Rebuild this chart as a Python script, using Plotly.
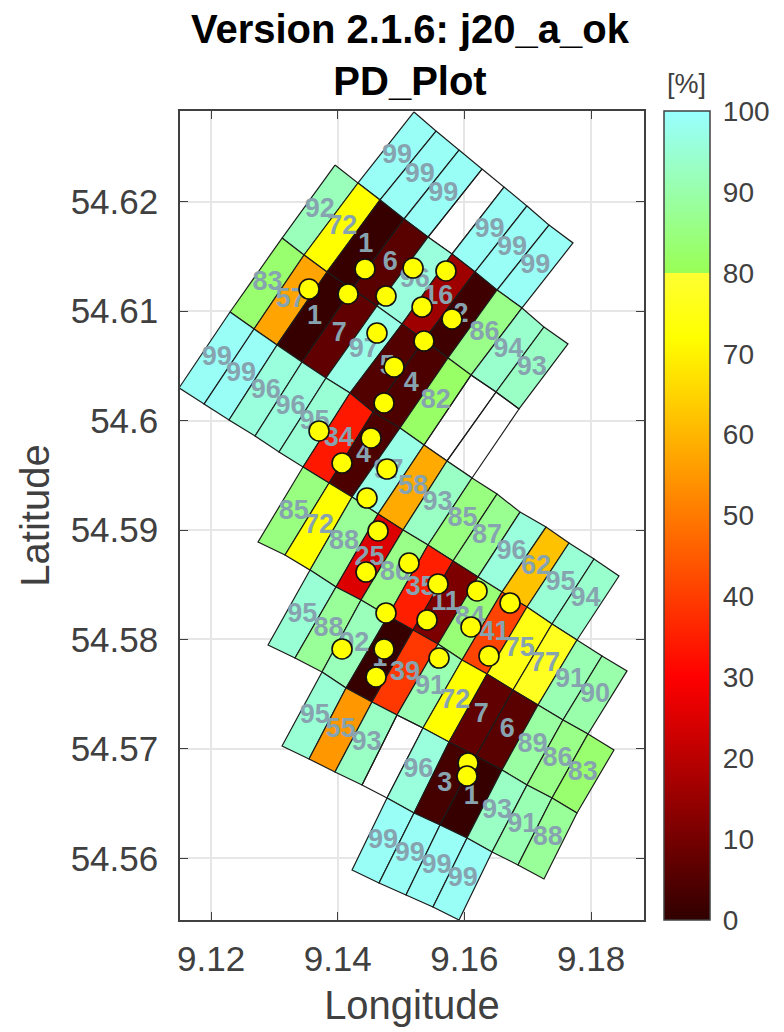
import plotly.graph_objects as go

# ---------- cell edge nodes (longitude / latitude) ----------
a_top_lon = [9.15204, 9.15552, 9.15915, 9.16278, 9.16625, 9.16988, 9.17335, 9.17714]
a_top_lat = [54.62820, 54.62646, 54.62472, 54.62299, 54.62134, 54.61961, 54.61787, 54.61623]
b_top_lon = [9.13957, 9.14320, 9.14668, 9.15047, 9.15425, 9.15804, 9.16167, 9.16515, 9.16909, 9.17256, 9.17635]
b_top_lat = [54.62335, 54.62171, 54.62016, 54.61842, 54.61677, 54.61522, 54.61358, 54.61193, 54.61029, 54.60855, 54.60700]
c_top_lon = [9.13121, 9.13468, 9.13831, 9.14226, 9.14620, 9.15015, 9.15362, 9.15741, 9.16104, 9.16499, 9.16862]
c_top_lat = [54.61668, 54.61513, 54.61358, 54.61202, 54.61047, 54.60882, 54.60736, 54.60572, 54.60416, 54.60261, 54.60106]
d_top_lon = [9.12300, 9.12679, 9.13042, 9.13436, 9.13815, 9.14194, 9.14557, 9.14983, 9.15362, 9.15725, 9.16120, 9.16515, 9.16878, 9.17288, 9.17651, 9.18046, 9.18440]
d_top_lat = [54.60992, 54.60837, 54.60691, 54.60535, 54.60389, 54.60252, 54.60078, 54.59932, 54.59777, 54.59631, 54.59475, 54.59329, 54.59164, 54.59027, 54.58881, 54.58735, 54.58580]
d_bot_lon = [9.11495, 9.11890, 9.12284, 9.12695, 9.13073, 9.13452, 9.13863, 9.14226, 9.14636, 9.15031, 9.15425, 9.15820, 9.16215, 9.16593, 9.16988, 9.17383, 9.17777]
d_bot_lat = [54.60298, 54.60151, 54.60005, 54.59859, 54.59713, 54.59576, 54.59429, 54.59302, 54.59146, 54.59000, 54.58863, 54.58717, 54.58571, 54.58433, 54.58296, 54.58141, 54.57995]
e_ext_lon = [9.18172, 9.18567]
e_ext_lat = [54.57849, 54.57712]
e_bot_lon = [9.12742, 9.13168, 9.13563, 9.13973, 9.14368, 9.14794, 9.15189, 9.15583, 9.15962, 9.16357, 9.16767, 9.17162, 9.17556, 9.17951]
e_bot_lat = [54.58890, 54.58772, 54.58634, 54.58479, 54.58360, 54.58214, 54.58086, 54.57958, 54.57812, 54.57684, 54.57538, 54.57401, 54.57264, 54.57136]
f_ext_lon = [9.18361]
f_ext_lat = [54.56990]
f_bot_lon = [9.12900, 9.13326, 9.13752, 9.14131, 9.14541, 9.14936, 9.15346, 9.15757, 9.16183, 9.16593, 9.16988, 9.17383, 9.17777]
f_bot_lat = [54.57949, 54.57830, 54.57702, 54.57556, 54.57428, 54.57309, 54.57191, 54.57063, 54.56935, 54.56807, 54.56670, 54.56551, 54.56414]
g_bot_lon = [9.13121, 9.13547, 9.13957, 9.14384, 9.14778, 9.15204, 9.15615, 9.16041, 9.16436, 9.16846, 9.17256]
g_bot_lat = [54.57026, 54.56907, 54.56789, 54.56670, 54.56551, 54.56414, 54.56304, 54.56185, 54.56058, 54.55939, 54.55811]
h_bot_lon = [9.14226, 9.14652, 9.15078, 9.15504, 9.15915]
h_bot_lat = [54.55893, 54.55774, 54.55665, 54.55555, 54.55436]

# ---------- cell values (percent), None = no data ----------
n = None
row_a = [99, 99, 99, n, 99, 99, 99]
row_b = [92, 72, 1, 6, 96, 16, 2, 86, 94, 93]
row_c = [83, 57, 1, 7, 97, 5, 4, 82, n, n]
row_d = [99, 99, 96, 96, 95, 34, 4, 97, 58, 93, 85, 87, 96, 62, 95, 94]
row_e = [85, 72, 88, 25, 86, 35, 11, 84, 41, 75, 77, 91, 90]
row_f = [95, 88, 92, 1, 39, 91, 72, 7, 6, 89, 86, 83]
row_g = [95, 55, 93, n, 96, 3, 1, 93, 91, 88]
row_h = [99, 99, 99, 99]

# ---------- yellow sites ----------
site_lon = [9.13547, 9.14163, 9.14431, 9.14762, 9.15189, 9.15709, 9.15331, 9.15804, 9.15362, 9.14620, 9.14889,
            9.14731, 9.13705, 9.14526, 9.14068, 9.14778, 9.14462, 9.14636, 9.14447, 9.15125, 9.15583, 9.16199,
            9.16720, 9.14762, 9.15410, 9.16104, 9.16388, 9.15599, 9.14068, 9.14731, 9.14605, 9.16057, 9.16041]
site_lat = [54.61202, 54.61157, 54.61385, 54.61138, 54.61394, 54.61367, 54.61038, 54.60928, 54.60727, 54.60800, 54.60489,
            54.60161, 54.59905, 54.59841, 54.59612, 54.59557, 54.59292, 54.58991, 54.58616, 54.58698, 54.58507, 54.58443,
            54.58333, 54.58242, 54.58178, 54.58114, 54.57849, 54.57830, 54.57913, 54.57913, 54.57657, 54.56871, 54.56752]

# ---------- axes and colours ----------
lon_ticks = [9.12, 9.14, 9.16, 9.18]
lon_labels = ["9.12", "9.14", "9.16", "9.18"]
lat_ticks = [54.56, 54.57, 54.58, 54.59, 54.60, 54.61, 54.62]
lat_labels = ["54.56", "54.57", "54.58", "54.59", "54.6", "54.61", "54.62"]
bar_ticks = [0, 10, 20, 30, 40, 50, 60, 70, 80, 90, 100]
cmap_vals = [0, 30, 72, 80, 80, 90, 100]
cmap_rgb = [(48, 0, 0), (255, 0, 0), (255, 255, 0), (255, 255, 51), (153, 255, 85), (153, 255, 170), (153, 255, 255)]

FONT = "Liberation Sans"
LABEL = "#87a3b0"
DARK = "#404040"


def colour(v):
    for i in range(len(cmap_vals) - 1):
        lo, hi = cmap_vals[i], cmap_vals[i + 1]
        if lo <= v <= hi and hi > lo:
            t = (v - lo) / (hi - lo)
            c = [round(a + (b - a) * t) for a, b in zip(cmap_rgb[i], cmap_rgb[i + 1])]
            return f"rgb({c[0]},{c[1]},{c[2]})"
    return "rgb(153,255,255)"


fig = go.Figure()
label_x, label_y, label_t = [], [], []


def strip(top_lon, top_lat, bot_lon, bot_lat, values):
    for i, v in enumerate(values):
        xs = [top_lon[i], top_lon[i + 1], bot_lon[i + 1], bot_lon[i], top_lon[i]]
        ys = [top_lat[i], top_lat[i + 1], bot_lat[i + 1], bot_lat[i], top_lat[i]]
        fig.add_trace(go.Scatter(
            x=xs, y=ys, mode="lines", hoverinfo="skip", showlegend=False,
            line=dict(color="#1c1c1c", width=1.2),
            fill="toself" if v is not None else "none",
            fillcolor=colour(v) if v is not None else None,
        ))
        if v is not None:
            label_x.append(sum(xs[:4]) / 4)
            label_y.append(sum(ys[:4]) / 4)
            label_t.append(str(v))


e_top_lon = d_bot_lon[5:] + e_ext_lon
e_top_lat = d_bot_lat[5:] + e_ext_lat
f_top_lon = e_bot_lon[2:] + f_ext_lon
f_top_lat = e_bot_lat[2:] + f_ext_lat

strip(a_top_lon, a_top_lat, b_top_lon[1:9], b_top_lat[1:9], row_a)
strip(b_top_lon, b_top_lat, c_top_lon, c_top_lat, row_b)
strip(c_top_lon, c_top_lat, d_top_lon[:11], d_top_lat[:11], row_c)
strip(d_top_lon, d_top_lat, d_bot_lon, d_bot_lat, row_d)
strip(e_top_lon, e_top_lat, e_bot_lon, e_bot_lat, row_e)
strip(f_top_lon, f_top_lat, f_bot_lon, f_bot_lat, row_f)
strip(f_bot_lon[2:], f_bot_lat[2:], g_bot_lon, g_bot_lat, row_g)
strip(g_bot_lon[4:9], g_bot_lat[4:9], h_bot_lon, h_bot_lat, row_h)

fig.add_trace(go.Scatter(
    x=label_x, y=label_y, text=label_t, mode="text", hoverinfo="skip", showlegend=False,
    textposition="middle center",
    textfont=dict(family=FONT, size=27, color=LABEL, weight="bold"),
))
fig.add_trace(go.Scatter(
    x=site_lon, y=site_lat, mode="markers", showlegend=False, hoverinfo="skip",
    marker=dict(size=20, color="#ffff00", line=dict(color="#111111", width=1.6)),
))

stops = [[v / 100, f"rgb({c[0]},{c[1]},{c[2]})"] for v, c in zip(cmap_vals, cmap_rgb)]

fig.add_trace(go.Scatter(
    x=[None, None], y=[None, None], mode="markers", showlegend=False, hoverinfo="skip",
    marker=dict(
        color=[bar_ticks[0], bar_ticks[-1]], cmin=bar_ticks[0], cmax=bar_ticks[-1], colorscale=stops,
        showscale=True,
        colorbar=dict(
            x=(664 - 180) / 464, xanchor="left", xpad=0, ypad=0, y=0.5, yanchor="middle",
            len=1, lenmode="fraction", thickness=46, thicknessmode="pixels",
            tickvals=bar_ticks, ticktext=[str(t) for t in bar_ticks],
            ticks="outside", ticklen=7, tickcolor="rgba(255,255,255,0)", tickwidth=1,
            tickfont=dict(family=FONT, size=28, color=DARK),
            outlinecolor=DARK, outlinewidth=1.5, borderwidth=0,
        ),
    ),
))

# inside ticks of the colour bar
bar_tick_shapes = [
    dict(type="line", xref="paper", yref="paper",
         x0=(702 - 180) / 464, x1=(710 - 180) / 464, y0=t / 100, y1=t / 100,
         line=dict(color=DARK, width=1))
    for t in bar_ticks[1:-1]
]

axis_common = dict(
    showgrid=True, gridcolor="#e6e6e6", gridwidth=1.5, zeroline=False,
    showline=True, linecolor=DARK, linewidth=1.5, mirror="ticks",
    ticks="inside", ticklen=8, tickcolor=DARK, tickwidth=1.2,
    tickfont=dict(family=FONT, size=35, color=DARK),
)
fig.update_layout(
    width=784, height=1032, autosize=False,
    margin=dict(l=180, r=140, t=111, b=112),
    plot_bgcolor="white", paper_bgcolor="white",
    font=dict(family=FONT, color=DARK),
    shapes=bar_tick_shapes,
    title=dict(
        text="<b>Version 2.1.6: j20_a_ok<br>PD_Plot</b>",
        font=dict(family=FONT, size=40, color="black"),
        x=410 / 784, xanchor="center", xref="container",
        y=1 - 43 / 1032, yanchor="top", yref="container",
    ),
    xaxis=dict(
        range=[9.1151, 9.18835], tickvals=lon_ticks, ticktext=lon_labels, ticklabelstandoff=7,
        title=dict(text="Longitude", font=dict(family=FONT, size=40, color=DARK), standoff=14),
        **axis_common,
    ),
    yaxis=dict(
        range=[54.55436, 54.62829], tickvals=lat_ticks, ticktext=lat_labels, ticklabelstandoff=13,
        title=dict(text="Latitude", font=dict(family=FONT, size=40, color=DARK), standoff=9),
        **axis_common,
    ),
    annotations=[dict(
        text="[%]", xref="paper", yref="paper", x=(686 - 180) / 464, y=1 + 27 / 809,
        xanchor="center", yanchor="middle", showarrow=False,
        font=dict(family=FONT, size=27, color=DARK),
    )],
)

fig.write_html("out.html", config=dict(displayModeBar=False),
               post_script="document.body.style.margin='0';")
